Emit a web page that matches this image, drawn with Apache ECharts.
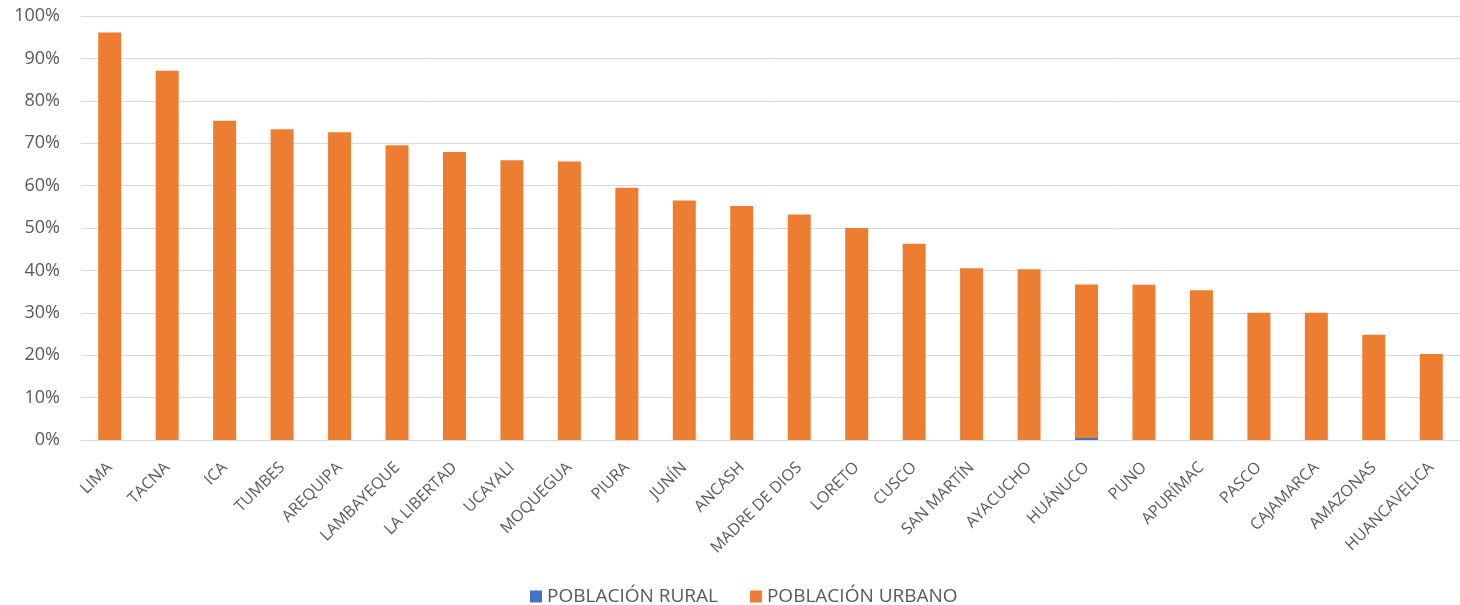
<!DOCTYPE html>
<html><head><meta charset="utf-8">
<script src="https://cdn.jsdelivr.net/npm/echarts@6/dist/echarts.min.js"></script>
<style>html,body{margin:0;padding:0;background:#fff}#c{width:1460px;height:605px}</style>
</head><body><div id="c"></div>
<script>
const categories = ["LIMA","TACNA","ICA","TUMBES","AREQUIPA","LAMBAYEQUE","LA LIBERTAD","UCAYALI","MOQUEGUA","PIURA","JUNÍN","ANCASH","MADRE DE DIOS","LORETO","CUSCO","SAN MARTÍN","AYACUCHO","HUÁNUCO","PUNO","APURÍMAC","PASCO","CAJAMARCA","AMAZONAS","HUANCAVELICA"];
const rural = [0,0,0,0,0,0,0,0,0,0,0,0,0,0,0,0,0,0.005,0,0,0,0,0,0];
const urbano = [0.961,0.871,0.753,0.733,0.726,0.695,0.679,0.660,0.657,0.595,0.565,0.552,0.532,0.500,0.463,0.405,0.403,0.362,0.366,0.353,0.300,0.300,0.248,0.203];
const font = "'Open Sans', 'Noto Sans', sans-serif";
const chart = echarts.init(document.getElementById('c'), null, {renderer:'canvas'});
chart.setOption({
  animation:false,
  grid:{left:81,right:0,top:16,bottom:165,containLabel:false},
  legend:{top:582,left:525,itemWidth:12,itemHeight:12,itemGap:32,icon:'rect',
    textStyle:{fontFamily:font,fontSize:19,color:'#595959'},
    data:['POBLACIÓN RURAL','POBLACIÓN URBANO']},
  xAxis:{type:'category',data:categories,
    axisLine:{lineStyle:{color:'#d9d9d9',width:1}},axisTick:{show:false},
    axisLabel:{rotate:45,interval:0,fontFamily:font,fontSize:16,color:'#595959',margin:25}},
  yAxis:{type:'value',min:0,max:1,interval:0.1,
    axisLine:{show:false},axisTick:{show:false},
    splitLine:{lineStyle:{color:'#d9d9d9',width:1}},
    axisLabel:{fontFamily:font,fontSize:18,color:'#595959',margin:21,
      formatter:v=>Math.round(v*100)+'%'}},
  series:[
    {name:'POBLACIÓN RURAL',type:'bar',stack:'t',data:rural,barWidth:'40%',itemStyle:{color:'#4472C4'}},
    {name:'POBLACIÓN URBANO',type:'bar',stack:'t',data:urbano,barWidth:'40%',itemStyle:{color:'#ED7D31'}}
  ]
});
</script></body></html>
